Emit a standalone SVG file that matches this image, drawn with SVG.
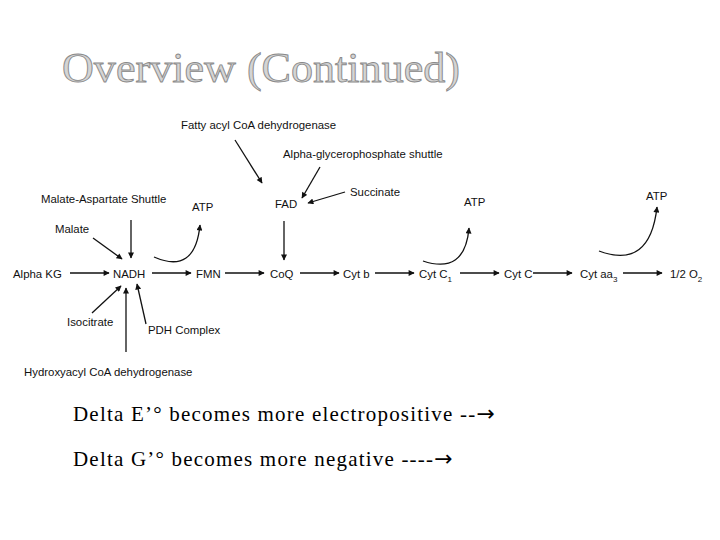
<svg xmlns="http://www.w3.org/2000/svg" width="720" height="540" viewBox="0 0 720 540">
<style>
.t{font-family:"Liberation Sans",Arial,sans-serif;font-size:11.4px;fill:#111}
.ln{stroke:#111;stroke-width:1.3;fill:none;marker-end:url(#ah)}
.bt{font-family:"Liberation Serif","Times New Roman",serif;font-size:21px;fill:#000;letter-spacing:1.2px}
.ar{font-family:"DejaVu Sans",sans-serif;font-size:22px;letter-spacing:0}
</style>
<defs>
<marker id="ah" viewBox="0 0 10 10" refX="9" refY="5" markerWidth="7" markerHeight="6" orient="auto" markerUnits="userSpaceOnUse"><path d="M0,0L10,5L0,10z" fill="#111"/></marker>
</defs>
<rect width="720" height="540" fill="#fff"/>
<text x="62" y="82" font-family="Liberation Serif,'Times New Roman',serif" font-size="42" fill="#d4d4d4" stroke="#8a8a8a" stroke-width="0.9" textLength="398" lengthAdjust="spacingAndGlyphs">Overview (Continued)</text>
<g id="n-alphakg"><text class="t" x="13" y="278">Alpha KG</text></g>
<g id="n-nadh"><text class="t" x="113" y="278">NADH</text></g>
<g id="n-fmn"><text class="t" x="196" y="278">FMN</text></g>
<g id="n-coq"><text class="t" x="270" y="278">CoQ</text></g>
<g id="n-cytb"><text class="t" x="343" y="278">Cyt b</text></g>
<g id="n-cytc1"><text class="t" x="419" y="278">Cyt C<tspan font-size="8" dy="4">1</tspan></text></g>
<g id="n-cytc"><text class="t" x="504" y="278">Cyt C</text></g>
<g id="n-cytaa3"><text class="t" x="580" y="278">Cyt aa<tspan font-size="8" dy="4">3</tspan></text></g>
<g id="n-o2"><text class="t" x="670" y="278">1/2 O<tspan font-size="8" dy="4">2</tspan></text></g>
<g id="n-fatty"><text class="t" x="181" y="129">Fatty acyl CoA dehydrogenase</text></g>
<g id="n-agps"><text class="t" x="283" y="158">Alpha-glycerophosphate shuttle</text></g>
<g id="n-succ"><text class="t" x="350" y="196">Succinate</text></g>
<g id="n-fad"><text class="t" x="275" y="208">FAD</text></g>
<g id="n-mas"><text class="t" x="41" y="203">Malate-Aspartate Shuttle</text></g>
<g id="n-atp1"><text class="t" x="192" y="211">ATP</text></g>
<g id="n-malate"><text class="t" x="55" y="233">Malate</text></g>
<g id="n-iso"><text class="t" x="67" y="326">Isocitrate</text></g>
<g id="n-pdh"><text class="t" x="148" y="334">PDH Complex</text></g>
<g id="n-hydroxy"><text class="t" x="24" y="376">Hydroxyacyl CoA dehydrogenase</text></g>
<g id="n-atp2"><text class="t" x="464" y="206">ATP</text></g>
<g id="n-atp3"><text class="t" x="646" y="200">ATP</text></g>
<g id="connectors">
<path class="ln" d="M70,273H109"/>
<path class="ln" d="M152,273H191" stroke="#888"/>
<path class="ln" d="M225,273H264"/>
<path class="ln" d="M300,273H339"/>
<path class="ln" d="M375,273H414"/>
<path class="ln" d="M460,273H499"/>
<path class="ln" d="M533,273H572"/>
<path class="ln" d="M623,273H662"/>
<path class="ln" d="M235,140L262,183"/>
<path class="ln" d="M320,167L302,198"/>
<path class="ln" d="M345,192L308,203"/>
<path class="ln" d="M284,221V260"/>
<path class="ln" d="M131,220V258"/>
<path class="ln" d="M93,238L122,259"/>
<path class="ln" d="M92,313L121,286"/>
<path class="ln" d="M146,324L137,284"/>
<path class="ln" d="M126,352V288"/>
<path class="ln" d="M154,257Q195,275 200,225"/>
<path class="ln" d="M423,261Q465,275 469,228"/>
<path class="ln" d="M599,251Q650,270 657,207"/>
</g>
<text class="bt" x="73" y="421">Delta E’° becomes more electropositive --<tspan class="ar">→</tspan></text>
<text class="bt" x="73" y="466">Delta G’° becomes more negative ----<tspan class="ar">→</tspan></text>
</svg>
